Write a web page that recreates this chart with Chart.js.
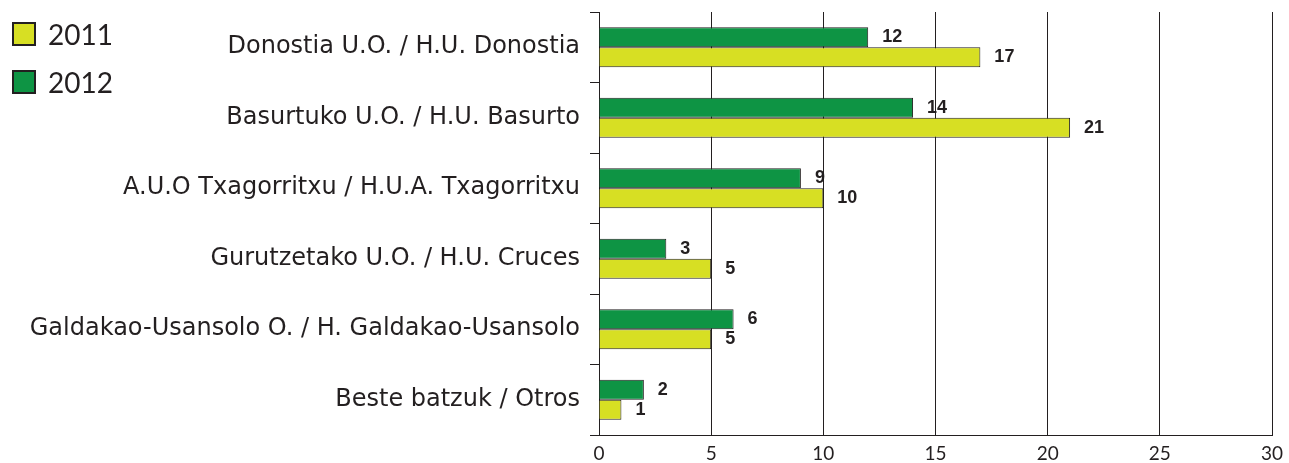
<!DOCTYPE html>
<html>
<head>
<meta charset="utf-8">
<script src="https://cdn.jsdelivr.net/npm/chart.js@4/dist/chart.umd.min.js"></script>
<style>
  html, body { margin: 0; padding: 0; background: #fff; }
  #wrap { position: relative; width: 1289px; height: 463px; }
  #legend { position: absolute; left: 12px; top: 22px; font-family: Lato, sans-serif; color: #231f20; }
  .li { display: flex; align-items: center; height: 24px; margin-bottom: 24px; font-size: 28px; }
  .sw { width: 20px; height: 20px; border: 2px solid #231f20; margin-right: 12px; }
</style>
</head>
<body>
<div id="wrap">
  <canvas id="c" width="1289" height="463"></canvas>
  <div id="legend"></div>
</div>
<script>
const categories = [
  "Donostia U.O. / H.U. Donostia",
  "Basurtuko U.O. / H.U. Basurto",
  "A.U.O Txagorritxu / H.U.A. Txagorritxu",
  "Gurutzetako U.O. / H.U. Cruces",
  "Galdakao-Usansolo O. / H. Galdakao-Usansolo",
  "Beste batzuk / Otros"
];
const values2011 = [17, 21, 10, 5, 5, 1];
const values2012 = [12, 14, 9, 3, 6, 2];
const xTicks = [0, 5, 10, 15, 20, 25, 30];

const color2011 = "#d7df23";
const color2012 = "#0e9444";
const ink = "#231f20";

const valueLabels = {
  id: "valueLabels",
  afterDatasetsDraw(chart) {
    const ctx = chart.ctx;
    ctx.save();
    ctx.font = "bold 18px 'Liberation Sans', Arial, sans-serif";
    ctx.fillStyle = ink;
    ctx.textBaseline = "middle";
    ctx.textAlign = "left";
    chart.data.datasets.forEach((ds, i) => {
      const meta = chart.getDatasetMeta(i);
      meta.data.forEach((bar, j) => {
        ctx.fillText(String(ds.data[j]), bar.x + 14, bar.y);
      });
    });
    ctx.restore();
  }
};

const chart = new Chart(document.getElementById("c"), {
  type: "bar",
  data: {
    labels: categories,
    datasets: [
      { label: "2012", data: values2012, backgroundColor: color2012, borderColor: ink, borderWidth: 1, barPercentage: 1, categoryPercentage: 0.57 },
      { label: "2011", data: values2011, backgroundColor: color2011, borderColor: ink, borderWidth: 1, barPercentage: 1, categoryPercentage: 0.57 }
    ]
  },
  options: {
    indexAxis: "y",
    responsive: false,
    animation: false,
    layout: { padding: { top: 12, right: 17, left: 0, bottom: 0 } },
    plugins: { legend: { display: false }, tooltip: { enabled: false } },
    scales: {
      x: {
        min: 0, max: 30,
        afterBuildTicks(scale) { scale.ticks = xTicks.map(v => ({ value: v })); },
        afterFit(scale) { scale.height = 28; scale.paddingLeft = 0; scale.paddingRight = 0; },
        grid: { color: ink, lineWidth: 1, drawTicks: false },
        border: { color: ink, width: 1 },
        ticks: { color: ink, padding: 7, font: { family: "Lato, sans-serif", size: 19 } }
      },
      y: {
        afterFit(scale) { scale.width = 599; scale.paddingTop = 0; scale.paddingBottom = 0; },
        grid: { drawOnChartArea: false, color: ink, tickLength: 9, offset: true },
        border: { color: ink, width: 1 },
        ticks: { color: ink, padding: 10, font: { family: "'DejaVu Sans', sans-serif", size: 24 } }
      }
    }
  },
  plugins: [valueLabels]
});

const legendEl = document.getElementById("legend");
[...chart.data.datasets].reverse().forEach(ds => {
  const row = document.createElement("div");
  row.className = "li";
  const sw = document.createElement("span");
  sw.className = "sw";
  sw.style.background = ds.backgroundColor;
  const t = document.createElement("span");
  t.textContent = ds.label;
  row.appendChild(sw);
  row.appendChild(t);
  legendEl.appendChild(row);
});
</script>
</body>
</html>
